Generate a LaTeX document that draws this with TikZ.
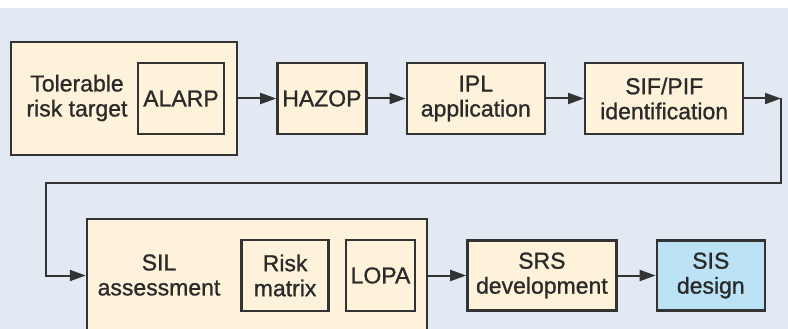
\documentclass[tikz,border=0pt]{standalone}
\usepackage{fontspec}
\setmainfont{Liberation Sans}[FakeBold=1]
\usetikzlibrary{positioning,arrows.meta}
\definecolor{bgblue}{HTML}{E2E9F3}
\definecolor{cream}{HTML}{FEF3DA}
\definecolor{sisblue}{HTML}{BCE2F5}
\definecolor{edge}{HTML}{333333}
\definecolor{ink}{HTML}{2A2A2A}
\begin{document}
\begin{tikzpicture}[x=1pt,y=-1pt,node distance=38pt,
  box/.style={draw=edge,line width=2.4pt,fill=cream,inner sep=0pt,minimum height=71pt,
    align=center,text=ink,font=\fontsize{23}{25}\selectfont},
  label/.style={inner sep=0pt,align=center,text=ink,font=\fontsize{23}{25}\selectfont},
  flow/.style={draw=edge,line width=2pt,-{Triangle[length=16pt,width=11pt]}}]
  \useasboundingbox (0,0) rectangle (788,329);
  \clip (0,0) rectangle (788,329);
  \fill[bgblue] (0,8) rectangle (788,329);
  \node (tol) [box,minimum width=226pt,minimum height=113pt] at (124,98.5) {};
  \node (tollabel) [label] at (77,98) {Tolerable\\risk target};
  \node (alarp) [box,minimum width=86pt,left=13pt of tol.east] {ALARP};
  \node (hazop) [box,minimum width=89pt,right=of tol] {HAZOP};
  \node (ipl) [box,minimum width=138pt,right=of hazop] {IPL\\application};
  \node (sif) [box,minimum width=158pt,right=of ipl] {SIF/PIF\\identification};
  \node (sil) [box,minimum width=340pt,minimum height=113pt] at (257,275.5) {};
  \node (sillabel) [label] at (159,275) {SIL\\assessment};
  \node (lopa) [box,minimum width=69pt,left=12pt of sil.east] {LOPA};
  \node (risk) [box,minimum width=87pt,left=15pt of lopa] {Risk\\matrix};
  \node (srs) [box,minimum width=149pt,minimum height=70pt,right=of sil] {SRS\\development};
  \node (sis) [box,fill=sisblue,minimum width=108pt,minimum height=70pt,right=of srs] {SIS\\design};
  \coordinate (turn) at (781,98.5);
  \coordinate (loopR) at (781,183);
  \coordinate (loopL) at (46,183);
  \draw[flow] (tol) -- (hazop);
  \draw[flow] (hazop) -- (ipl);
  \draw[flow] (ipl) -- (sif);
  \draw[flow] (sif) -- (turn);
  \draw[flow] (turn) -- (loopR) -- (loopL) |- (sil.west);
  \draw[flow] (sil.east |- srs) -- (srs);
  \draw[flow] (srs) -- (sis);
\end{tikzpicture}
\end{document}
